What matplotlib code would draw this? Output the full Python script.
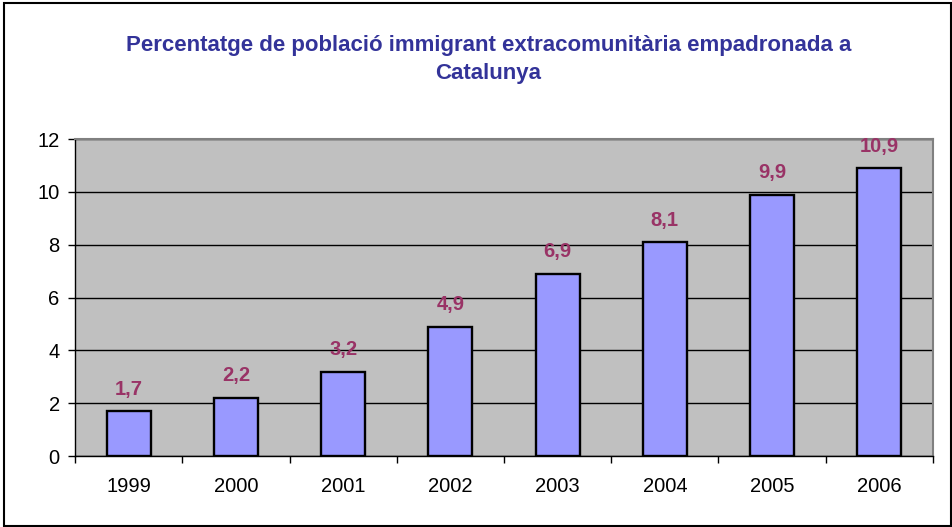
import matplotlib.pyplot as plt
from matplotlib.patches import Rectangle

# dades
anys = ['1999', '2000', '2001', '2002', '2003', '2004', '2005', '2006']
percentatge = [1.7, 2.2, 3.2, 4.9, 6.9, 8.1, 9.9, 10.9]
etiquetes = ['1,7', '2,2', '3,2', '4,9', '6,9', '8,1', '9,9', '10,9']

plt.rcParams['font.family'] = ['Liberation Sans', 'DejaVu Sans']

fig = plt.figure(figsize=(9.52, 5.27), dpi=100)
ax = fig.add_axes([0.0788, 0.1347, 0.9012, 0.6013])

# marc de la figura
fig.patches.append(Rectangle((0.0045, 0.002), 0.994, 0.992, transform=fig.transFigure,
                             fill=False, edgecolor='black', linewidth=1.5))

x = range(len(anys))
ax.set_facecolor('#C0C0C0')
ax.bar(x, percentatge, width=0.41, color='#9999FF', edgecolor='black', linewidth=1.7, zorder=3)

for xi, v, t in zip(x, percentatge, etiquetes):
    ax.annotate(t, (xi, v), xytext=(0, 9), textcoords='offset points', ha='center', va='bottom',
                fontsize=14.5, fontweight='bold', color='#993366', zorder=4)

ax.set_xlim(-0.5, len(anys) - 0.5)
ax.set_ylim(0, 12)
ax.set_yticks(range(0, 13, 2))
ax.set_xticks(x)
ax.set_xticklabels(anys)
ax.set_xticks([i + 0.5 for i in range(-1, len(anys))], minor=True)
ax.tick_params(axis='x', which='major', length=0, pad=15, labelsize=14.5)
ax.tick_params(axis='x', which='minor', length=5, width=1)
ax.tick_params(axis='y', length=5, width=1, labelsize=14.5, pad=6)
ax.yaxis.grid(True, color='black', linewidth=1, zorder=1)
ax.set_axisbelow(True)

for s in ['top', 'right']:
    ax.spines[s].set_color('#808080')
    ax.spines[s].set_linewidth(1.5)
for s in ['left', 'bottom']:
    ax.spines[s].set_color('black')
    ax.spines[s].set_linewidth(1)

fig.text(0.513, 0.887, 'Percentatge de població immigrant extracomunitària empadronada a\nCatalunya',
         ha='center', va='center', fontsize=16, fontweight='bold', color='#333399', linespacing=1.4)

fig.savefig('out.png', dpi=100)
